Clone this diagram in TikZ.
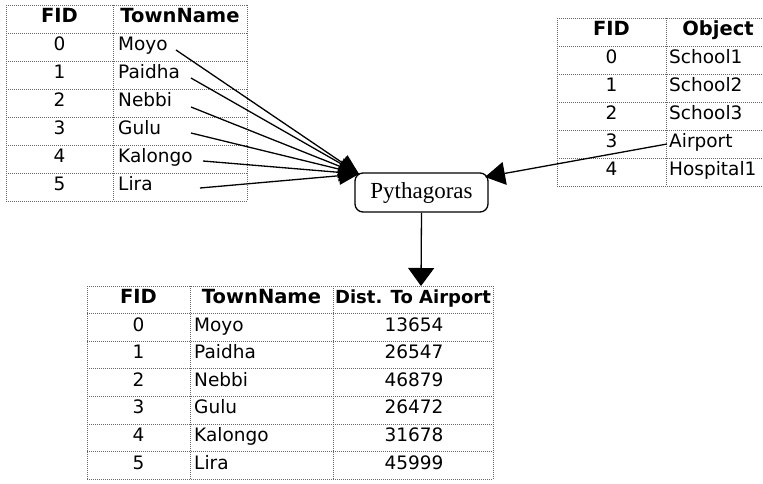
\documentclass[tikz,border=0pt]{standalone}
\usepackage{fontspec}
\setmainfont{DejaVu Sans}
\newfontfamily\pyfont{Liberation Serif}
\usetikzlibrary{arrows.meta}
\begin{document}
\begin{tikzpicture}[x=1pt,y=-1pt,
  gridline/.style={draw=black!60, line width=0.8pt, dash pattern=on 1pt off 1pt},
  hd/.style={font=\fontsize{18}{18}\selectfont\bfseries, inner sep=0pt, text height=0.729em, text depth=0pt},
  hdwide/.style={hd, font=\fontsize{19.5}{18}\selectfont\bfseries},
  cellc/.style={font=\fontsize{18.5}{18}\selectfont, inner sep=0pt, text height=0.729em, text depth=0pt},
  celll/.style={cellc, anchor=west},
  conn/.style={line width=1.3pt, -{Triangle[length=20pt,width=18pt]}},
  procbox/.style={draw, rounded corners=8pt, line width=1.3pt, minimum width=133pt, minimum height=39pt, inner sep=0pt, font=\pyfont\fontsize{23}{23}\selectfont},
]
\useasboundingbox (0,0) rectangle (763,483);
\fill[white] (0,0) rectangle (763,483);
\clip (0,0) rectangle (763,483);

% ---------- Table 1 ----------
\foreach \k in {0,...,7} \draw[gridline] (6,{5+28*\k}) -- (247,{5+28*\k});
\foreach \x in {6,113,247} \draw[gridline] (\x,5) -- (\x,201);
\node[hdwide] (t1h1) at (59.5,19) {FID};
\node[hdwide] (t1h2) at (180,19) {TownName};
\foreach \f/\n [count=\k from 0] in {0/Moyo,1/Paidha,2/Nebbi,3/Gulu,4/Kalongo,5/Lira}{
  \node[cellc] (t1f\k) at (59.5,{47+28*\k}) {\f};
  \node[celll] (t1n\k) at (118,{47+28*\k}) {\n};
}

% ---------- Table 2 ----------
\foreach \k in {0,...,6} \draw[gridline] (557,{18+28*\k}) -- (763,{18+28*\k});
\foreach \x in {557,666} \draw[gridline] (\x,18) -- (\x,186);
\node[hdwide] (t2h1) at (611.5,32) {FID};
\node[hdwide] (t2h2) at (718,32) {Object};
\foreach \f/\n [count=\k from 0] in {0/School1,1/School2,2/School3,3/Airport,4/Hospital1}{
  \node[cellc] (t2f\k) at (611.5,{60+28*\k}) {\f};
  \node[celll] (t2n\k) at (669,{60+28*\k}) {\n};
}

% ---------- Table 3 ----------
\foreach \k in {0,...,7} \draw[gridline] (87,{286+27.6*\k}) -- (493,{286+27.6*\k});
\foreach \x in {87,190,333,493} \draw[gridline] (\x,286) -- (\x,479.2);
\node[hdwide] (t3h1) at (138.5,299.8) {FID};
\node[hdwide] (t3h2) at (261.5,299.8) {TownName};
\node[hd] (t3h3) at (413,299.8) {Dist. To Airport};
\foreach \f/\n/\d [count=\k from 0] in {0/Moyo/13654,1/Paidha/26547,2/Nebbi/46879,3/Gulu/26472,4/Kalongo/31678,5/Lira/45999}{
  \node[cellc] (t3f\k) at (138.5,{327.4+27.6*\k}) {\f};
  \node[celll] (t3n\k) at (194,{327.4+27.6*\k}) {\n};
  \node[cellc] (t3d\k) at (414,{327.4+27.6*\k}) {\d};
}

% ---------- Process ----------
\node[procbox] (py) at (421.5,192.5) {Pythagoras};

\coordinate (s0) at (176,50);
\coordinate (s1) at (191,78);
\coordinate (s2) at (191,107);
\coordinate (s3) at (191,133);
\coordinate (s4) at (203,161);
\coordinate (s5) at (200,188);
\coordinate (hub) at (359,174);
\coordinate (air) at (667,144);
\coordinate (rtip) at (485,177);
\coordinate (dtip) at (421,286);

\foreach \k in {0,...,5} \draw[conn] (s\k) -- (hub);
\draw[conn, -{Triangle[length=20pt,width=23pt]}] (air) -- (rtip);
\draw[conn, -{Triangle[length=18pt,width=26pt]}] (py.south) -- (dtip);
\end{tikzpicture}
\end{document}
